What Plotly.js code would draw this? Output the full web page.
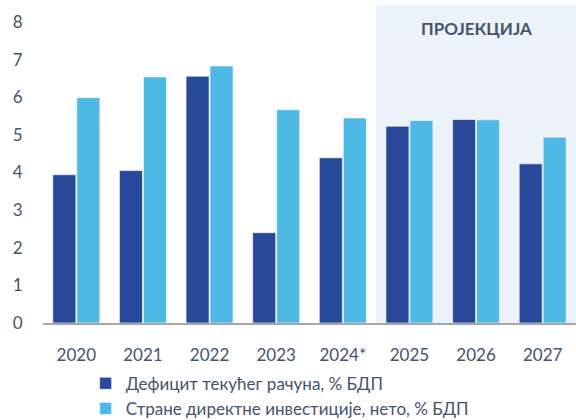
<!DOCTYPE html>
<html><head><meta charset="utf-8">
<script src="https://cdn.plot.ly/plotly-3.0.1.min.js"></script>
<style>html,body{margin:0;padding:0;background:#fff}#chart{width:576px;height:420px}</style>
</head><body><div id="chart"></div>
<script>
const years = ["2020","2021","2022","2023","2024*","2025","2026","2027"];
const deficit = [3.94, 4.05, 6.56, 2.40, 4.39, 5.23, 5.41, 4.23];
const fdi = [5.99, 6.54, 6.83, 5.67, 5.45, 5.38, 5.40, 4.94];
const seriesNames = ["Дефицит текућег рачуна, % БДП", "Стране директне инвестиције, нето, % БДП"];
const projectionLabel = "ПРОЈЕКЦИЈА";
const projectionStart = "2025";

const txt = "#44546A";
const font = "Lato, Open Sans, sans-serif";
const startIdx = years.indexOf(projectionStart);

const traces = [
  {type:"bar", x:years, y:deficit, name:seriesNames[0],
   marker:{color:"#29489A", line:{color:"rgba(255,255,255,0.6)", width:1}}},
  {type:"bar", x:years, y:fdi, name:seriesNames[1],
   marker:{color:"#4FB9E6", line:{color:"rgba(255,255,255,0.6)", width:1}}}
];

const layout = {
  width:576, height:420,
  margin:{l:43, r:0, t:22, b:97, autoexpand:false},
  paper_bgcolor:"#fff", plot_bgcolor:"rgba(0,0,0,0)",
  barmode:"group", bargap:0.28, bargroupgap:0.04,
  font:{family:font, color:txt, size:17},
  showlegend:true,
  legend:{orientation:"v", x:0.08, xanchor:"left", y:-0.142, yanchor:"top",
          font:{size:17, color:txt}, tracegroupgap:0, itemwidth:30, bgcolor:"rgba(0,0,0,0)"},
  xaxis:{type:"category", showgrid:false, zeroline:false, showline:true,
         linecolor:"#A6A6A6", linewidth:1.5, ticks:"outside", ticklen:16,
         tickcolor:"rgba(0,0,0,0)", tickfont:{size:17, color:txt}, fixedrange:true},
  yaxis:{range:[0,8], dtick:1, showgrid:false, zeroline:false, showline:false,
         ticks:"outside", ticklen:16, tickcolor:"rgba(0,0,0,0)",
         tickfont:{size:17, color:txt}, fixedrange:true},
  shapes:[{type:"rect", xref:"x", yref:"paper", x0:startIdx-0.5, x1:years.length-0.5,
           y0:0, y1:1.055, fillcolor:"#EBF2FA", line:{width:0}, layer:"below"}],
  annotations:[{text:"<b>"+projectionLabel+"</b>", xref:"x", yref:"paper",
                x:(startIdx-0.5+years.length-0.5)/2, y:1.02, showarrow:false,
                font:{size:17, color:txt, family:font}}]
};

Plotly.newPlot("chart", traces, layout, {displayModeBar:false, staticPlot:true});
</script></body></html>
